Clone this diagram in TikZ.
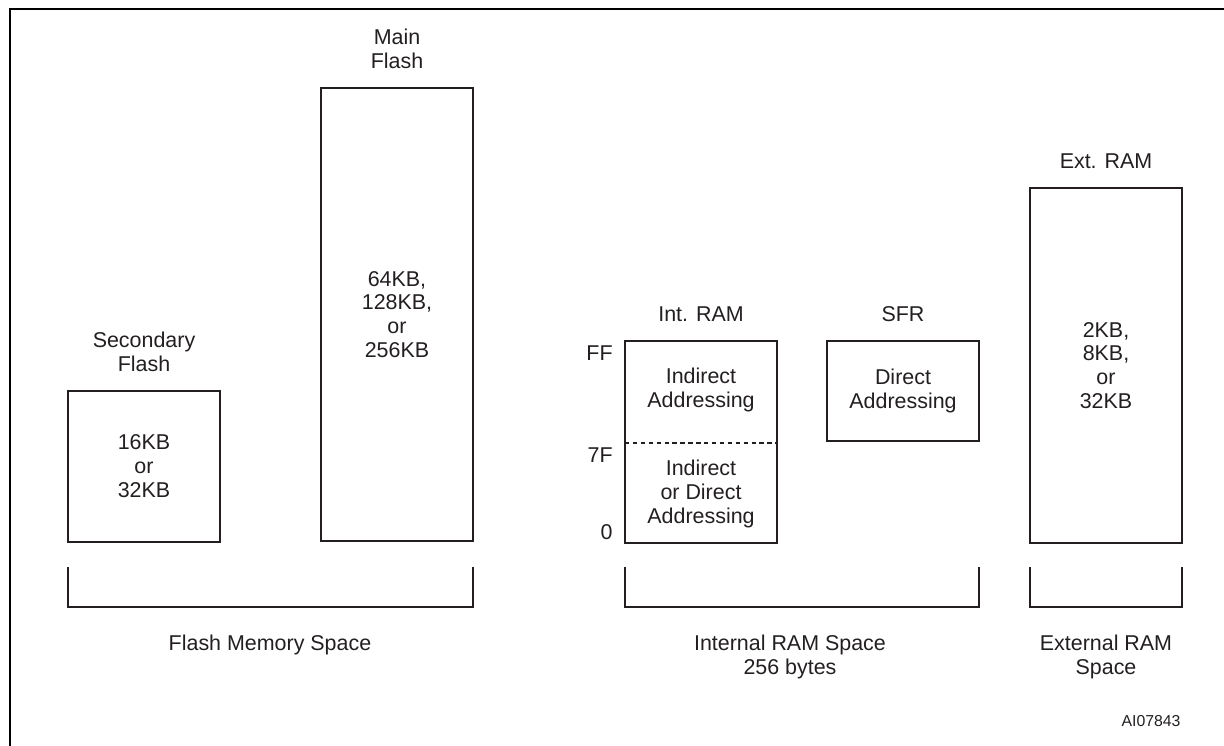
\documentclass[tikz,border=0pt]{standalone}
\usepackage{fontspec}
\setmainfont{Liberation Sans}
\usetikzlibrary{positioning}
\definecolor{ink}{HTML}{231F20}

\begin{document}
\begin{tikzpicture}[x=0.02cm,y=-0.02cm,
    every node/.style={font=\fontsize{12.2}{13.6}\selectfont,text=ink,align=center,inner sep=0pt},
    membox/.style={draw=ink,line width=1.1pt,minimum width=3.04cm},
    bracket/.style={draw=ink,line width=1.1pt}]
    \useasboundingbox (0,0) rectangle (1224,746);
    \clip (0,0) rectangle (1224,746);

    % 外框
    \draw[line width=1.7pt] (10,760) -- (10,9) -- (1240,9);

    % 存储块
    \node[membox,minimum height=3.02cm] (secflash) at (144,466.5) {16KB\\or\\32KB};
    \node[membox,minimum height=9.06cm] (mainflash) at (397,314.5) {64KB,\\128KB,\\or\\256KB};
    \node[membox,minimum height=4.04cm] (intram) at (701,442) {};
    \node[membox,minimum height=2cm] (sfr) at (903,391) {Direct\\Addressing};
    \node[membox,minimum height=7.1cm] (extram) at (1106,365.5) {2KB,\\8KB,\\or\\32KB};

    % 块名
    \node[above=0.36cm of secflash] (secflashlbl) {Secondary\\Flash};
    \node[above=0.36cm of mainflash] (mainflashlbl) {Main\\Flash};
    \node[above=0.36cm of intram] (intramlbl) {Int. RAM};
    \node[above=0.36cm of sfr] (sfrlbl) {SFR};
    \node[above=0.36cm of extram] (extramlbl) {Ext. RAM};

    % 内部 RAM 分区
    \draw[ink,line width=0.8pt,dash pattern=on 2.5pt off 2pt] (625,443) -- (777,443);
    \node (indtext) at (701,390) {Indirect\\Addressing};
    \node (inddirtext) at (701,494) {Indirect\\or Direct\\Addressing};
    \foreach \t/\y in {FF/353,7F/455,0/532}
        \node[anchor=east] (addr\t) at (613,\y) {\t};

    % 括号
    \foreach \a/\b in {68/473,625/979,1030/1182}
        \draw[bracket] (\a,567) -- (\a,607) -- (\b,607) -- (\b,567);

    % 空间名
    \node (flashspace) at (270,645) {Flash Memory Space};
    \node (intspace) at (790,657) {Internal RAM Space\\256 bytes};
    \node (extspace) at (1106,657) {External RAM\\Space};
    \node[font=\fontsize{9}{10}\selectfont] (figid) at (1151,721) {AI07843};
\end{tikzpicture}
\end{document}
